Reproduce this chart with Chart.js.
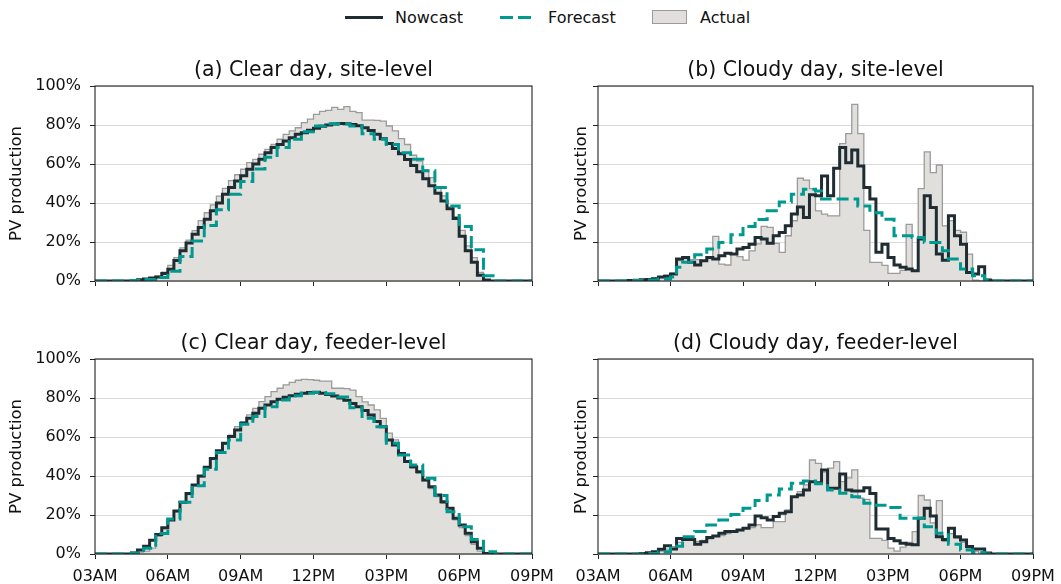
<!DOCTYPE html>
<html>
<head>
<meta charset="utf-8">
<script src="https://cdn.jsdelivr.net/npm/chart.js@4/dist/chart.umd.min.js"></script>
<style>
  body { margin: 0; background: #fff; width: 1061px; height: 584px; overflow: hidden; font-family: "DejaVu Sans", sans-serif; }
  canvas { position: absolute; }
  .sym { position: absolute; box-sizing: border-box; }
  .lt { position: absolute; top: 8px; font-size: 16px; line-height: 19px; color: #111; }
</style>
</head>
<body>
<div class="sym" style="left:345px;top:16px;width:38px;height:3px;background:#1f2d33"></div>
<div class="lt" style="left:395px">Nowcast</div>
<div class="sym" style="left:500px;top:16px;width:13px;height:3px;background:#00998f"></div>
<div class="sym" style="left:518px;top:16px;width:13px;height:3px;background:#00998f"></div>
<div class="lt" style="left:548px">Forecast</div>
<div class="sym" style="left:652px;top:10px;width:35px;height:14px;background:#e0dfdc;border:1.3px solid #9b9b9b"></div>
<div class="lt" style="left:700px">Actual</div>

<canvas id="panelA" width="560" height="255" style="left:0;top:45px"></canvas>
<canvas id="panelB" width="496" height="255" style="left:565px;top:45px"></canvas>
<canvas id="panelC" width="560" height="266" style="left:0;top:318px"></canvas>
<canvas id="panelD" width="496" height="266" style="left:565px;top:318px"></canvas>

<script>
// 15-minute slots from 03AM to 09PM (72 slots), values in % of capacity
const tickHours = [3, 6, 9, 12, 15, 18, 21];
const tickLabels = ['03AM', '06AM', '09AM', '12PM', '03PM', '06PM', '09PM'];

// (a) clear day, site-level
const clearSiteNowcast = [0,0,0,0,0,0, 0.3,0.6,1,1.5,2,3.9, 6,10.5,15.5,19.5,24,27.5,
  31.7,36,40,44.5,48,51.3, 54,57.3,60,62.4,65.8,68.4, 70,71.8,73.5,75.2,76,77.3,
  78.3,79.3,80,80.5,80.8,80.7, 80.3,79.6,78.6,77.2,75.3,73, 70.5,68,65.3,62.3,59.2,56,
  52.5,48.8,45,41,37,32, 23,15.5,9.6,3,0.5,0, 0,0,0,0,0,0];
const clearSiteForecast = [0,0,0,0,0,0, 0.3,0.3,0.8,0.8,1.8,1.8, 5,5,12.6,12.6,20.5,20.5,
  28.5,28.5,36.5,36.5,44.5,44.5, 51,51,57.5,57.5,63.5,63.5, 68.4,68.4,72.7,72.7,76.5,76.5,
  79.5,79.5,80.7,80.7,80.5,80.5, 79.5,79.5,75.5,75.5,72.7,72.7, 70,70,65.8,65.8,62.4,62.4,
  56.5,56.5,48,48,38.5,38.5, 28,28,16,16,2.7,2.7, 0,0,0,0,0,0];
const clearSiteActual = [0,0,0,0,0,0, 0.3,0.6,1,1.5,2.5,4.5, 8,12,17,21,25.8,31,
  35,39,43.5,47.5,51.5,54.5, 57.3,60.7,62.4,65,67.5,70, 72.7,75.2,77,78.6,81.2,83,
  85.5,87,87.5,89,88,89.4, 87,86.3,82.5,82.5,82.4,82, 79.5,77,73,70,64.5,61.5,
  57,53,48,43.7,38,33, 26,18,12,4.4,0.5,0, 0,0,0,0,0,0];

// (b) cloudy day, site-level
const cloudySiteNowcast = [0,0,0,0,0,0.2, 0.4,0.6,0.8,1.2,2,2.5, 3.6,11.3,12.1,9.6,8.2,10.4,
  12.1,11.3,13,14.2,13.8,16.4, 17.2,18.9,22.3,21.5,19.3,23.2, 24.9,28.3,34.3,38,32.6,44.2,
  43.7,53.9,43.7,57.8,68.4,60.7, 67.2,59,47.9,42,14.7,18.9, 12.1,8.2,7,6.1,5.3,21.5,
  43.7,37.7,13.8,10.7,33.4,23.2, 18.9,4.4,3.6,7.3,0.5,0, 0,0,0,0,0,0];
const cloudySiteForecast = [0,0,0,0,0,0, 0.2,0.3,0.5,0.5,1,1, 2,7,9.6,9.6,13.5,13.5,
  16.4,16.4,19.8,19.8,23.7,23.7, 28,28,31.5,31.5,36,36, 40.5,40.5,44.5,44.5,47,47,
  46.2,42,42,42,42,42, 42,38.5,38.5,35,35,31.7, 31.7,23.2,23.2,23.2,22.3,22.3,
  19.8,19.8,19.8,15.5,11.3,11.3, 6.1,6.1,2.7,2.7,0.5,0, 0,0,0,0,0,0];
const cloudySiteActual = [0,0,0,0,0,0.2, 0.4,0.6,1,1.5,2,3, 4,10.5,11.5,11,11,10.5,
  11.5,22.9,8.7,8.2,13.8,12.5, 10.7,15.5,19,28,27.5,19.3, 14.7,23.2,30.9,52.7,51.7,47.4,
  36,34.3,33.4,33.4,70.5,75.6, 90.6,75.6,26,9.6,9.6,8, 3.9,3.9,5.5,29,5.3,47.4,
  66.2,55.6,59.5,28.3,31,26, 25,13.8,0.5,0,0,0, 0,0,0,0,0,0];

// (c) clear day, feeder-level
const clearFeederNowcast = [0,0,0,0,0,0, 0.5,2,4,7,10,13.5, 17.5,22,26.5,31,35.4,40,
  44.5,49,53,56.8,60.2,63.6, 67,69.6,72.2,74.7,76.4,78.1, 79.3,80.4,81.2,81.9,82.4,82.8,
  82.9,82.4,81.8,81,80,78.8, 77.2,75.5,73.6,71.3,68,65.3, 58.5,55.9,51.6,47.4,44.8,42.2,
  37.9,34.5,30.3,26.8,23.4,18.3, 14.9,10.6,6.3,2.9,0.3,0, 0,0,0,0,0,0];
const clearFeederForecast = [0,0,0,0,0,0, 0.5,0.5,3,3,10.5,10.5, 18,18,26.5,26.5,35,35,
  43.5,43.5,52,52,58.5,58.5, 66.5,66.5,70.5,70.5,75.5,75.5, 79,79,81.2,81.2,82.5,82.5,
  82.8,82.8,82.2,82.2,80.5,80.5, 75,75,69.6,69.6,65.3,65.3, 56.8,56.8,50.8,50.8,45.7,45.7,
  38.8,38.8,30,30,21.7,21.7, 14,14,7.5,7.5,1.2,1.2, 0,0,0,0,0,0];
const clearFeederActual = [0,0,0,0,0,0, 0.3,1,1.5,3,9,13, 17.4,21.7,26,30.5,35,39.5,
  44,48.5,53,56.5,61,65.3, 67.9,71.3,74.7,78.1,80.7,83.3, 85,86.7,88,89.1,89.6,89.4,
  89.1,88.7,88.7,85,85,84.8, 84,80.7,78,76.4,73.9,69.6, 62,58.5,52,47,44,41.5,
  37.5,33.5,29.5,26,22,17.5, 13.5,9.5,5,1.5,0,0, 0,0,0,0,0,0];

// (d) cloudy day, feeder-level
const cloudyFeederNowcast = [0,0,0,0,0,0, 0,0.3,0.7,1.2,2.5,4.2, 2.6,8,7.5,7.5,5,6.3,
  8.4,9.2,10.6,11.5,11.5,12.3, 13.2,14.9,19.5,18.6,17.4,19.2, 20.9,21.7,29.4,30.3,32.8,37.1,
  36.5,43.1,33.7,33.7,41,32.8, 32.3,32.3,34,31,12.8,12.8, 8,6.8,5.5,5,4.8,18.3,
  23.4,19.5,8.9,7.5,13.2,8.9, 7.2,3.8,2.6,2.6,0.5,0, 0,0,0,0,0,0];
const cloudyFeederForecast = [0,0,0,0,0,0, 0,0,0.3,0.3,1.2,1.2, 4,4,8.9,8.9,11.5,11.5,
  14.9,14.9,17.4,17.4,20.3,20.3, 23.4,23.4,27.4,27.4,30.3,30.3, 33.3,33.3,36.3,36.3,37.5,37.5,
  36,36,32.8,32.8,31.1,31.1, 29.4,29.4,26,26,25,25, 23.9,23.9,18.3,18.3,18.3,18.3,
  14,14,10.6,10.6,5,5, 2,2,0.8,0.8,0,0, 0,0,0,0,0,0];
const cloudyFeederActual = [0,0,0,0,0,0, 0,0.2,0.5,1,1.5,2.5, 3.8,6,7.5,7.5,6.5,7,
  7.8,9,9.5,10.5,11.5,12, 13.2,13.5,15,13.5,13.5,16.6, 16.6,22.6,29,32,35.4,48.2,
  46.5,42,44,47.4,37.1,39, 43.1,28.6,28,8,8,7, 3,1.5,3.5,6,11.5,30,
  27.7,16,27.4,6.5,10.5,8, 6,3,1.5,0.5,0,0, 0,0,0,0,0,0];

const DARK = '#1f2d33';
const TEAL = '#00998f';
const FONT = 'DejaVu Sans';
Chart.defaults.font.family = FONT;
Chart.defaults.color = '#111';

const slotStart = clearSiteNowcast.map((_, i) => 3 + i * 0.25);

function steps(values) {
  const pts = values.map((v, i) => ({ x: slotStart[i], y: v }));
  pts.push({ x: 21, y: values[values.length - 1] });
  return pts;
}

// full box around the plot area plus the panel title above it
const frame = {
  id: 'frame',
  afterDraw(chart) {
    const { ctx, chartArea: a } = chart;
    ctx.save();
    ctx.strokeStyle = '#222';
    ctx.lineWidth = 1.1;
    ctx.strokeRect(a.left, a.top, a.right - a.left, a.bottom - a.top);
    ctx.font = '20.5px "' + FONT + '"';
    ctx.fillStyle = '#111';
    ctx.textAlign = 'center';
    ctx.textBaseline = 'alphabetic';
    ctx.fillText(chart.options.plugins.frame.title, (a.left + a.right) / 2, a.top - 10);
    ctx.restore();
  }
};

function makePanel(id, title, nowcast, forecast, actual, showX, showY) {
  new Chart(document.getElementById(id), {
    type: 'line',
    data: {
      datasets: [
        { label: 'Forecast', data: steps(forecast), stepped: 'before', borderColor: TEAL, borderWidth: 3,
          borderDash: [12, 5], pointRadius: 0, fill: false, order: 0 },
        { label: 'Nowcast', data: steps(nowcast), stepped: 'before', borderColor: DARK, borderWidth: 3,
          pointRadius: 0, fill: false, order: 1 },
        { label: 'Actual', data: steps(actual), stepped: 'before', borderColor: '#9b9b9b', borderWidth: 1.3,
          backgroundColor: '#e0dfdc', fill: 'origin', pointRadius: 0, order: 2 }
      ]
    },
    options: {
      responsive: false,
      animation: false,
      events: [],
      layout: { padding: { left: 0, right: 28, top: 41, bottom: 0 } },
      plugins: { legend: { display: false }, tooltip: { enabled: false }, frame: { title: title } },
      scales: {
        x: {
          type: 'linear', min: 3, max: 21,
          afterBuildTicks: s => { s.ticks = tickHours.map(v => ({ value: v })); },
          afterFit: s => { s.height = showX ? 30 : 19; s.paddingLeft = 0; s.paddingRight = 0; },
          grid: { drawOnChartArea: false, color: '#222', tickLength: 5 },
          border: { display: false },
          ticks: { display: showX, padding: 8, maxRotation: 0, font: { size: 16 },
            callback: v => tickLabels[tickHours.indexOf(v)] }
        },
        y: {
          min: 0, max: 100,
          afterFit: s => { s.width = showY ? 95 : 33; s.paddingTop = 0; s.paddingBottom = 0; },
          grid: { color: '#d9d9d9', tickColor: '#222', tickLength: 5 },
          border: { display: false },
          ticks: { display: showY, stepSize: 20, padding: 9, font: { size: 16 }, callback: v => v + '%' },
          title: { display: true, text: 'PV production', font: { size: 16.5 }, padding: { top: 7, bottom: 0 } }
        }
      }
    },
    plugins: [frame]
  });
}

makePanel('panelA', '(a) Clear day, site-level', clearSiteNowcast, clearSiteForecast, clearSiteActual, false, true);
makePanel('panelB', '(b) Cloudy day, site-level', cloudySiteNowcast, cloudySiteForecast, cloudySiteActual, false, false);
makePanel('panelC', '(c) Clear day, feeder-level', clearFeederNowcast, clearFeederForecast, clearFeederActual, true, true);
makePanel('panelD', '(d) Cloudy day, feeder-level', cloudyFeederNowcast, cloudyFeederForecast, cloudyFeederActual, true, false);
</script>
</body>
</html>
